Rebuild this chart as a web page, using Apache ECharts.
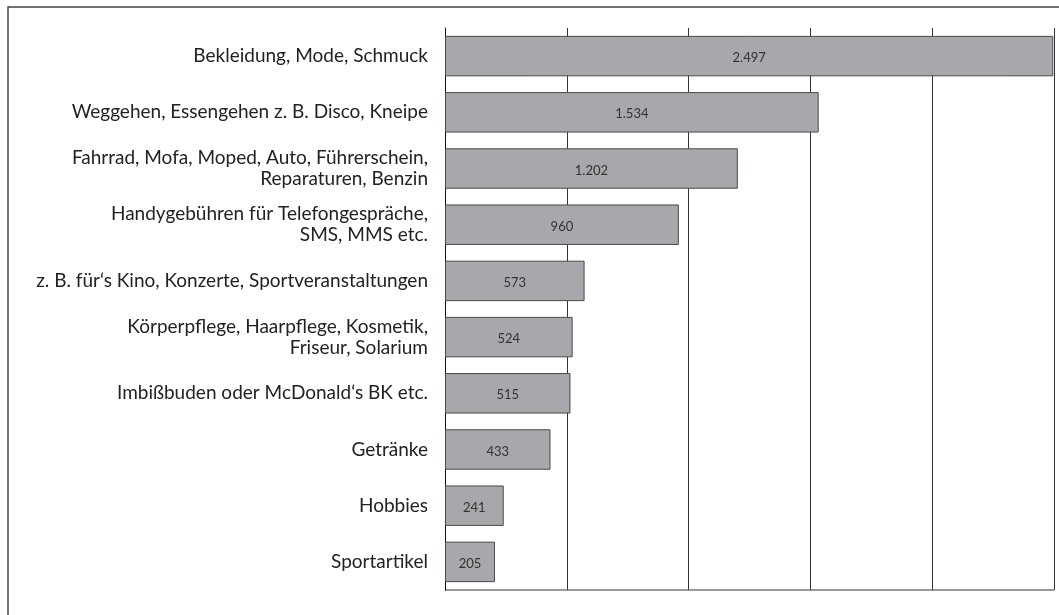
<!DOCTYPE html>
<html>
<head>
<meta charset="utf-8">
<style>
  html, body { margin: 0; padding: 0; background: #fff; }
  #chart { width: 1059px; height: 615px; }
</style>
<script src="https://cdn.jsdelivr.net/npm/echarts@6/dist/echarts.min.js"></script>
</head>
<body>
<div id="chart"></div>
<script>
// Kategorien (von oben nach unten)
var categories = [
  "Bekleidung, Mode, Schmuck",
  "Weggehen, Essengehen z. B. Disco, Kneipe",
  "Fahrrad, Mofa, Moped, Auto, Führerschein,\nReparaturen, Benzin",
  "Handygebühren für Telefongespräche,\nSMS, MMS etc.",
  "z. B. für‘s Kino, Konzerte, Sportveranstaltungen",
  "Körperpflege, Haarpflege, Kosmetik,\nFriseur, Solarium",
  "Imbißbuden oder McDonald‘s BK etc.",
  "Getränke",
  "Hobbies",
  "Sportartikel"
];
var values = [2497, 1534, 1202, 960, 573, 524, 515, 433, 241, 205];

var myChart = echarts.init(document.getElementById("chart"));

// Zahlen mit Punkt als Tausendertrenner
function fmt(v) {
  return String(v).replace(/\B(?=(\d{3})+(?!\d))/g, ".");
}

var option = {
  animation: false,
  textStyle: { fontFamily: "Lato" },
  graphic: [
    {
      type: "rect",
      shape: { x: 8, y: 7, width: 1200, height: 800 },
      style: { fill: "none", stroke: "#444", lineWidth: 1.5 }
    },
    {
      // untere Linie des Diagramms
      type: "line",
      shape: { x1: 445, y1: 590, x2: 1054, y2: 590 },
      style: { stroke: "#777", lineWidth: 1.5 }
    }
  ],
  grid: {
    left: 445,
    right: 5,
    top: 28,
    bottom: 25
  },
  xAxis: {
    type: "value",
    min: 0,
    max: 2500,
    interval: 500,
    axisLine: { show: false },
    axisTick: { show: false },
    axisLabel: { show: false },
    splitLine: { show: true, lineStyle: { color: "#333", width: 1 } }
  },
  yAxis: {
    type: "category",
    inverse: true,
    data: categories,
    axisLine: { show: true, lineStyle: { color: "#111", width: 1 } },
    axisTick: { show: false },
    axisLabel: {
      color: "#222",
      fontSize: 19,
      lineHeight: 21,
      margin: 17,
      align: "right"
    }
  },
  series: [
    {
      type: "bar",
      data: values,
      barCategoryGap: "28%",
      itemStyle: {
        color: "#a7a8ab",
        borderColor: "#4a4a4a",
        borderWidth: 1
      },
      label: {
        show: true,
        position: "inside",
        color: "#333",
        fontSize: 13,
        offset: [0, 2],
        formatter: function (p) {
          return fmt(p.value);
        }
      }
    }
  ]
};

myChart.setOption(option);
</script>
</body>
</html>
